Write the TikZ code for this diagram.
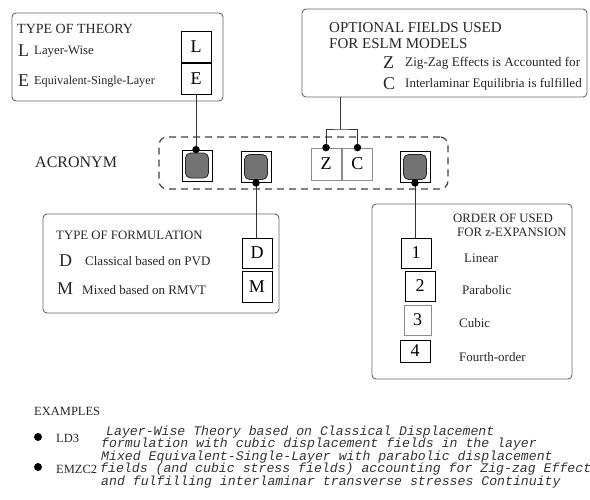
\documentclass[tikz,border=0pt]{standalone}
\usepackage{fontspec}
\setmainfont{Liberation Serif}
\setmonofont{Liberation Mono}
\begin{document}
\begin{tikzpicture}[x=1pt,y=-1pt,
  panel/.style={draw=black!60, line width=0.9pt, rounded corners=4pt, inner sep=0, fill=none},
  lbox/.style={draw=black, line width=0.8pt, minimum width=30pt, minimum height=31pt, inner sep=0, font=\fontsize{18}{18}\selectfont},
  gbox/.style={lbox, draw=black!45},
  slot/.style={draw=black!85, fill=black!55, line width=0.8pt, rounded corners=5pt, minimum width=23pt, minimum height=25pt, inner sep=0},
  txt/.style={anchor=base west, inner sep=0, font=\fontsize{13}{13}\selectfont, text=black!85},
  ttl/.style={anchor=base west, inner sep=0, font=\fontsize{12.8}{12.8}\selectfont, text=black!85},
  big/.style={anchor=base west, inner sep=0, font=\fontsize{18}{18}\selectfont, text=black!85},
  mono/.style={anchor=base west, inner sep=0, font=\fontsize{13.2}{12.3}\selectfont\ttfamily\itshape, text=black!80},
  conn/.style={draw=black!80, line width=0.9pt},
  dot/.style={circle, fill=black, inner sep=0, minimum size=7.5pt},
  bullet/.style={circle, fill=black, inner sep=0, minimum size=8pt}
]
\useasboundingbox (0,0) rectangle (590,499);

% ---------- TYPE OF THEORY ----------
\node[panel, minimum width=211pt, minimum height=88pt] (theory) at (117.5,57) {};
\node[ttl, font=\fontsize{14}{14}\selectfont] (tht) at (17,33) {TYPE OF THEORY};
\node[big] (thL) at (18,56) {L};
\node[txt, font=\fontsize{12.8}{12.8}\selectfont] (thLt) at (34,54) {Layer-Wise};
\node[big] (thE) at (18,86) {E};
\node[txt, font=\fontsize{12.2}{12.2}\selectfont] (thEt) at (34,84.3) {Equivalent-Single-Layer};
\node[lbox] (L) at (196,46.5) {L};
\node[lbox] (E) at (196,79) {E};

% ---------- OPTIONAL FIELDS ----------
\node[panel, minimum width=285pt, minimum height=88pt] (opt) at (444.5,53) {};
\node[ttl, font=\fontsize{15}{15}\selectfont] (opt1) at (329,32.3) {OPTIONAL FIELDS USED};
\node[ttl, font=\fontsize{15}{15}\selectfont] (opt2) at (329,48.3) {FOR ESLM MODELS};
\node[big] (optZ) at (383,68) {Z};
\node[txt, font=\fontsize{13.2}{13.2}\selectfont] (optZt) at (405,66.5) {Zig-Zag Effects is Accounted for};
\node[big] (optC) at (383,89) {C};
\node[txt] (optCt) at (405,87.5) {Interlaminar Equilibria is fulfilled};

% ---------- ACRONYM ----------
\node[anchor=base west, inner sep=0, font=\fontsize{16}{16}\selectfont, text=black!85] (acr) at (35,167.5) {ACRONYM};
\node[draw=black!75, dashed, dash pattern=on 7pt off 5pt, line width=1.2pt, rounded corners=8pt,
      minimum width=289pt, minimum height=52pt, inner sep=0] (row) at (303.5,163) {};
\node[lbox] (b1) at (197,165.5) {};
\node[slot] at (b1) {};
\node[lbox] (b2) at (256,167) {};
\node[slot] at (b2) {};
\node[gbox, minimum height=32pt] (Z) at (326,164) {Z};
\node[gbox, minimum height=32pt] (C) at (357.5,164) {C};
\node[lbox] (b4) at (415,167) {};
\node[slot] at (b4) {};

% ---------- TYPE OF FORMULATION ----------
\node[panel, minimum width=236pt, minimum height=99pt] (form) at (161,263.5) {};
\node[ttl] (ft) at (56,239.2) {TYPE OF FORMULATION};
\node[big] (fD) at (59,266.5) {D};
\node[txt] (fDt) at (85,265.3) {Classical based on PVD};
\node[big] (fM) at (57,294.5) {M};
\node[txt] (fMt) at (82,294.3) {Mixed based on RMVT};
\node[lbox, minimum height=30pt] (D) at (257,253) {D};
\node[lbox] (M) at (257,286.5) {M};

% ---------- ORDER OF EXPANSION ----------
\node[panel, minimum width=200pt, minimum height=175pt] (ord) at (472,291.5) {};
\node[ttl] (ot1) at (453,222.2) {ORDER OF USED};
\node[ttl] (ot2) at (457,236.2) {FOR z-EXPANSION};
\node[lbox, minimum height=30pt] (o1) at (416,253) {1};
\node[lbox, minimum height=30pt] (o2) at (420,286) {2};
\node[gbox, minimum width=27pt, minimum height=30pt] (o3) at (417.5,320) {3};
\node[lbox, minimum height=22pt] (o4) at (415,351) {4};
\node[txt] (o1t) at (464,262.3) {Linear};
\node[txt] (o2t) at (462,294.3) {Parabolic};
\node[txt] (o3t) at (459,327.3) {Cubic};
\node[txt] (o4t) at (459,361.3) {Fourth-order};

% ---------- connectors ----------
\draw[conn] (E.south) -- (E.south |- b1.north);
\node[dot] at (E.south |- b1.north) {};
\draw[conn] (b2.south) -- (b2.south |- D.north);
\node[dot] at (b2.south) {};
\coordinate (br) at (340,129);
\draw[conn] (br |- opt.south) -- (br);
\draw[conn] (Z.north) |- (br) -| (C.north);
\node[dot] at (Z.north) {};
\node[dot] at (C.north) {};
\draw[conn] (b4.south) -- (b4.south |- o1.north);
\node[dot] at (b4.south) {};

% ---------- EXAMPLES ----------
\node[ttl, font=\fontsize{12.5}{12.5}\selectfont] (ex) at (34,415.5) {EXAMPLES};
\node[bullet] (e1) at (38,437) {};
\node[ttl, font=\fontsize{12.5}{12.5}\selectfont] (e1n) at (56,442.5) {LD3};
\node[mono] (e1a) at (106,435.5) {Layer-Wise Theory based on Classical Displacement};
\node[mono] (e1b) at (101,447.8) {formulation with cubic displacement fields in the layer};
\node[bullet] (e2) at (38,467) {};
\node[ttl, font=\fontsize{12.5}{12.5}\selectfont] (e2n) at (56,473.5) {EMZC2};
\node[mono] (e2a) at (101,460.5) {Mixed Equivalent-Single-Layer with parabolic displacement};
\node[mono] (e2b) at (100,472.8) {fields (and cubic stress fields) accounting for Zig-zag Effect};
\node[mono] (e2c) at (101,485) {and fulfilling interlaminar transverse stresses Continuity};
\end{tikzpicture}
\end{document}
